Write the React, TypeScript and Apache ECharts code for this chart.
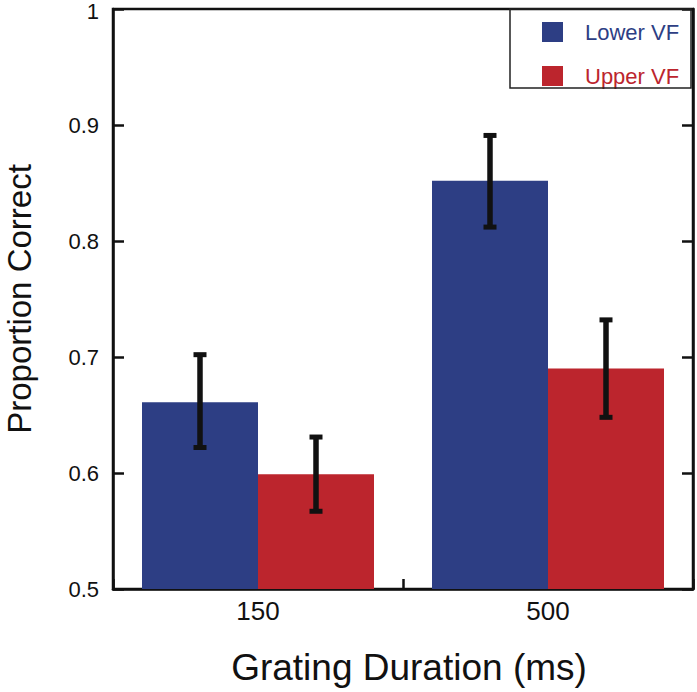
import React, { useEffect, useRef } from "react";
import * as echarts from "echarts";

const categories = ["150", "500"];
const lowerVF = [0.661, 0.852];
const upperVF = [0.599, 0.690];
const lowerErrHigh = [0.702, 0.891];
const lowerErrLow = [0.622, 0.812];
const upperErrHigh = [0.631, 0.732];
const upperErrLow = [0.567, 0.648];
const yTicks = [0.5, 0.6, 0.7, 0.8, 0.9, 1];

const BLUE = "#2D3E84";
const RED = "#BC252D";
const INK = "#111111";

function errorSeries(name: string, hi: number[], lo: number[], side: number) {
  return {
    type: "custom",
    name,
    z: 5,
    data: categories.map((c, i) => [i, hi[i], lo[i]]),
    encode: { x: 0, y: [1, 2] },
    renderItem: (params: any, api: any) => {
      const idx = api.value(0);
      const top = api.coord([idx, api.value(1)]);
      const bot = api.coord([idx, api.value(2)]);
      const band = api.size([1, 0])[0];
      const barW = (band * 0.8) / 2;
      const x = top[0] + (side * barW) / 2;
      const capW = 13;
      const style = { stroke: INK, lineWidth: 5.5 };
      const cap = { stroke: INK, lineWidth: 5 };
      return {
        type: "group",
        children: [
          { type: "line", shape: { x1: x, y1: top[1], x2: x, y2: bot[1] }, style },
          { type: "line", shape: { x1: x - capW / 2, y1: top[1], x2: x + capW / 2, y2: top[1] }, style: cap },
          { type: "line", shape: { x1: x - capW / 2, y1: bot[1], x2: x + capW / 2, y2: bot[1] }, style: cap },
        ],
      };
    },
  };
}

export default function App() {
  const ref = useRef<HTMLDivElement>(null);
  useEffect(() => {
    const chart = echarts.init(ref.current!, null, { renderer: "svg" });
    const font = "'Liberation Sans', Arial, Helvetica, sans-serif";
    const legendText = { fontSize: 22, lineHeight: 20, fontFamily: font, padding: [0, 0, 0, 17] };
    chart.setOption({
      animation: false,
      textStyle: { fontFamily: font },
      grid: {
        left: 113,
        right: 4,
        top: 9,
        bottom: 103,
        outerBoundsMode: "none",
        containLabel: false,
        show: true,
        borderColor: INK,
        borderWidth: 2.5,
        backgroundColor: "transparent",
      },
      legend: {
        orient: "vertical",
        left: 542,
        top: 21,
        padding: 0,
        itemWidth: 21,
        itemHeight: 20,
        itemGap: 22,
        icon: "rect",
        selectedMode: false,
        textStyle: legendText,
        data: [
          { name: "Lower VF", textStyle: { ...legendText, color: BLUE } },
          { name: "Upper VF", textStyle: { ...legendText, color: RED } },
        ],
      },
      graphic: [
        {
          type: "rect",
          shape: { x: 510, y: 9, width: 181, height: 79 },
          style: { fill: "none", stroke: "#222", lineWidth: 1.5 },
          z: 10,
        },
      ],
      xAxis: [
        {
          type: "category",
          data: categories,
          boundaryGap: true,
          name: "Grating Duration (ms)",
          nameLocation: "middle",
          nameGap: 60,
          nameTextStyle: { fontSize: 37, color: INK, fontFamily: font, padding: [0, 0, 0, 12] },
          axisLine: { show: true, lineStyle: { color: INK, width: 2.5 } },
          axisTick: { show: true, inside: true, length: 10, lineStyle: { color: INK, width: 2.5 } },
          axisLabel: { fontSize: 26, color: INK, margin: 9, fontFamily: font },
          splitLine: { show: false },
        },
      ],
      yAxis: [
        {
          type: "value",
          min: 0.5,
          max: 1,
          interval: 0.1,
          name: "Proportion Correct",
          nameLocation: "middle",
          nameGap: 78,
          nameTextStyle: { fontSize: 33, lineHeight: 32, color: INK, fontFamily: font },
          axisLine: { show: true, lineStyle: { color: INK, width: 2.5 } },
          axisTick: { show: true, inside: true, length: 11, lineStyle: { color: INK, width: 2.5 } },
          axisLabel: {
            fontSize: 22,
            lineHeight: 18,
            color: INK,
            margin: 14,
            fontFamily: font,
            rich: {
              top: { fontSize: 22, lineHeight: 18, color: INK, fontFamily: font, padding: [5, 0, 0, 0] },
            },
            formatter: (v: number) => {
              const t = yTicks.find((k) => Math.abs(k - v) < 1e-6);
              if (t === undefined) return "";
              return t === 1 ? "{top|1}" : String(t);
            },
          },
          splitLine: { show: false },
        },
        {
          type: "value",
          position: "right",
          min: 0.5,
          max: 1,
          interval: 0.1,
          axisLine: { show: true, lineStyle: { color: INK, width: 2.5 } },
          axisTick: { show: true, inside: true, length: 11, lineStyle: { color: INK, width: 2.5 } },
          axisLabel: { show: false },
          splitLine: { show: false },
        },
      ],
      series: [
        {
          type: "bar",
          name: "Lower VF",
          data: lowerVF,
          barGap: "0%",
          barCategoryGap: "20%",
          itemStyle: { color: BLUE },
        },
        {
          type: "bar",
          name: "Upper VF",
          data: upperVF,
          barGap: "0%",
          barCategoryGap: "20%",
          itemStyle: { color: RED },
        },
        errorSeries("Lower VF err", lowerErrHigh, lowerErrLow, -1),
        errorSeries("Upper VF err", upperErrHigh, upperErrLow, 1),
      ],
    });
    return () => chart.dispose();
  }, []);
  return <div ref={ref} style={{ position: "absolute", left: 0, top: 0, width: 697, height: 692 }} />;
}
